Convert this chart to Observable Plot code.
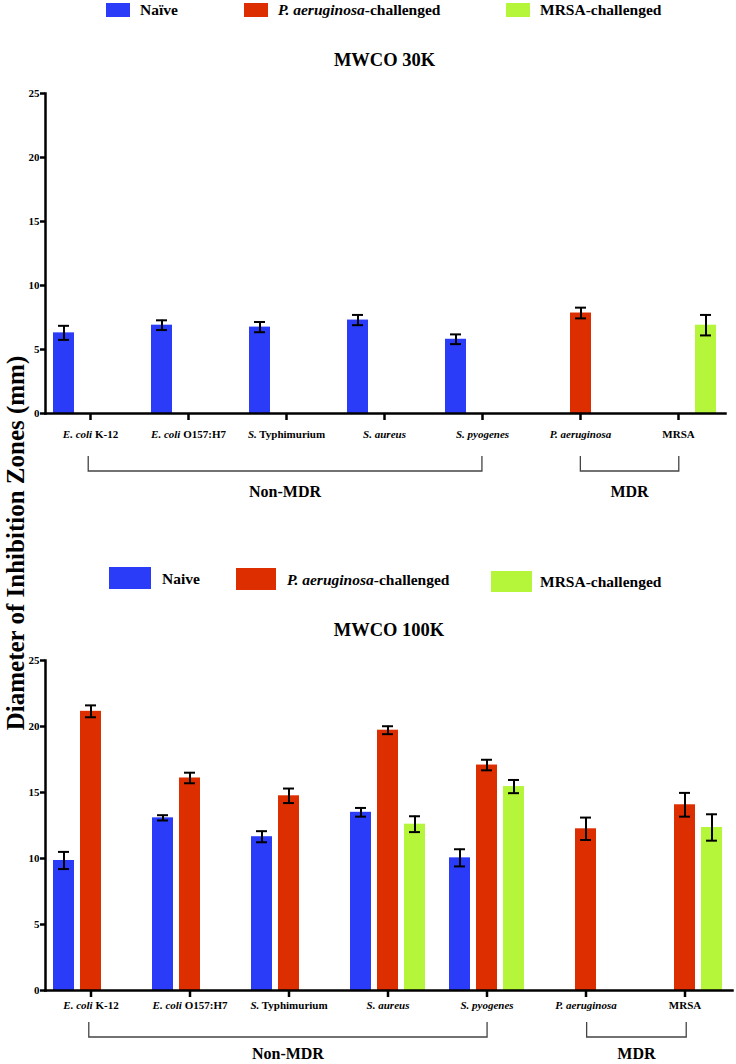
<!DOCTYPE html>
<html><head><meta charset="utf-8">
<script src="https://cdn.jsdelivr.net/npm/d3@7"></script>
<script src="https://cdn.jsdelivr.net/npm/@observablehq/plot@0.6"></script>
<style>
body{margin:0;background:#fff;}
#page{position:relative;width:736px;height:1064px;overflow:hidden;font-family:"Liberation Serif","Times New Roman",serif;font-weight:bold;color:#000;}
.sw{position:absolute;}
.lt{position:absolute;font-size:15.5px;white-space:nowrap;line-height:1;}
.title{position:absolute;font-size:18.5px;white-space:nowrap;line-height:1;transform:translateX(-50%);}
.chart{position:absolute;left:0;}
#ytitle{position:absolute;font-size:25px;white-space:nowrap;line-height:1;left:15px;top:543px;transform:translate(-50%,-50%) rotate(-90deg);}
</style></head>
<body><div id="page"></div>
<script>
// ---- data ----
const categories = ["E. coli K-12","E. coli O157:H7","S. Typhimurium","S. aureus","S. pyogenes","P. aeruginosa","MRSA"];
const categoryItalic = ["E. coli","E. coli","S.","S. aureus","S. pyogenes","P. aeruginosa",""];
const series = ["Naïve","P. aeruginosa-challenged","MRSA-challenged"];
const seriesColors = ["#2a3cf8","#dd2e00","#b5f53a"];
const legend30Labels = ["Naïve","P. aeruginosa-challenged","MRSA-challenged"];
const legend100Labels = ["Naive","P. aeruginosa-challenged","MRSA-challenged"];
const legendItalic = ["","P. aeruginosa",""];
const titles = ["MWCO 30K","MWCO 100K"];
const yTitle = "Diameter of Inhibition Zones (mm)";
const yTicks = [0,5,10,15,20,25];
const groupLabels = ["Non-MDR","MDR"];
const groupFrom = ["E. coli K-12","P. aeruginosa"];
const groupTo = ["S. pyogenes","MRSA"];

// MWCO 30K
const naive30    = [6.3, 6.9, 6.75, 7.3, 5.8, null, null];
const naive30Err = [0.55, 0.38, 0.4, 0.4, 0.38, null, null];
const pa30       = [null, null, null, null, null, 7.85, null];
const pa30Err    = [null, null, null, null, null, 0.42, null];
const mrsa30     = [null, null, null, null, null, null, 6.9];
const mrsa30Err  = [null, null, null, null, null, null, 0.8];

// MWCO 100K
const naive100    = [9.85, 13.08, 11.65, 13.5, 10.05, null, null];
const naive100Err = [0.65, 0.2, 0.42, 0.33, 0.65, null, null];
const pa100       = [21.15, 16.1, 14.75, 19.72, 17.08, 12.25, 14.07];
const pa100Err    = [0.45, 0.4, 0.55, 0.3, 0.4, 0.85, 0.9];
const mrsa100     = [null, null, null, 12.6, 15.45, null, 12.35];
const mrsa100Err  = [null, null, null, 0.6, 0.5, null, 1.0];

function rowsOf(list) {
  const rows = [];
  list.forEach(([vals, errs], s) => {
    vals.forEach((v, i) => {
      if (v != null) rows.push({category: categories[i], series: series[s], value: v, err: errs[i]});
    });
  });
  return rows;
}
const rows30 = rowsOf([[naive30, naive30Err], [pa30, pa30Err], [mrsa30, mrsa30Err]]);
const rows100 = rowsOf([[naive100, naive100Err], [pa100, pa100Err], [mrsa100, mrsa100Err]]);

const page = document.getElementById("page");

function addText(parent, cls, text, italicPart, style) {
  const el = document.createElement("div");
  el.className = cls;
  Object.assign(el.style, style);
  if (italicPart && text.startsWith(italicPart)) {
    const i = document.createElement("i"); i.textContent = italicPart; el.appendChild(i);
    el.appendChild(document.createTextNode(text.slice(italicPart.length)));
  } else el.textContent = text;
  parent.appendChild(el);
  return el;
}

function legend(labels, sw, tx) {
  labels.forEach((lab, i) => {
    const s = document.createElement("div");
    s.className = "sw";
    Object.assign(s.style, {left: sw[i][0] + "px", top: sw[i][1] + "px", width: sw[i][2] + "px", height: sw[i][3] + "px", background: seriesColors[i]});
    page.appendChild(s);
    addText(page, "lt", lab, legendItalic[i], {left: tx[i][0] + "px", top: tx[i][1] + "px"});
  });
}

function makeChart(rows, o) {
  const chart = Plot.plot({
    width: 736, height: o.height,
    marginTop: o.mt, marginBottom: o.mb, marginLeft: o.ml, marginRight: o.mr,
    style: {fontFamily: "'Liberation Serif', 'Times New Roman', serif", fontWeight: "bold", fontSize: "11px", color: "#000", background: "transparent"},
    fx: {domain: categories, padding: 0, label: null},
    x: {domain: series, paddingInner: 0.24, paddingOuter: 0.42, axis: null},
    y: {domain: [0, 25], label: null},
    color: {domain: series, range: seriesColors},
    marks: [
      Plot.barY(rows, {fx: "category", x: "series", y: "value", fill: "series"}),
      Plot.ruleX(rows, {fx: "category", x: "series", y1: d => d.value - d.err, y2: d => d.value + d.err, stroke: "#000", strokeWidth: 2}),
      Plot.tickY(rows, {fx: "category", x: "series", y: d => d.value + d.err, insetLeft: 5, insetRight: 5, stroke: "#000", strokeWidth: 2}),
      Plot.tickY(rows, {fx: "category", x: "series", y: d => d.value - d.err, insetLeft: 5, insetRight: 5, stroke: "#000", strokeWidth: 2}),
      Plot.frame({anchor: "left", facet: "super", dx: 4, stroke: "#000", strokeWidth: 2.5}),
      Plot.frame({anchor: "bottom", facet: "super", insetLeft: 4, insetRight: o.axisInsetRight, stroke: "#000", strokeWidth: 2.5}),
      Plot.axisY({ticks: yTicks, tickSize: 5, tickPadding: 1, strokeWidth: 2.5, dx: 4, label: null, fontSize: 11}),
      Plot.axisFx({anchor: "bottom", tickSize: 7, tickPadding: o.tp, strokeWidth: 2.5, label: null, fontSize: 11})
    ]
  });
  const svgNode = chart.tagName.toLowerCase() === "svg" ? chart : chart.querySelector("svg");
  const svg = d3.select(svgNode);

  // mixed italic tick labels
  svg.selectAll('g[aria-label="fx-axis tick label"] text').each(function() {
    const full = this.textContent;
    const idx = categories.indexOf(full);
    if (idx < 0) return;
    const it = categoryItalic[idx];
    const t = d3.select(this);
    t.text(null);
    if (it) t.append("tspan").attr("font-style", "italic").text(it);
    const rest = full.slice(it.length);
    if (rest) t.append("tspan").attr("font-style", "normal").text(rest);
  });

  // brackets for groups
  const fxs = chart.scale("fx");
  const pi = fxs.paddingInner ?? fxs.padding ?? 0;
  const po = fxs.paddingOuter ?? fxs.padding ?? 0;
  const band = d3.scaleBand().domain(fxs.domain).range(fxs.range).paddingInner(pi).paddingOuter(po).align(fxs.align ?? 0.5);
  const cx = c => band(c) + band.bandwidth() / 2;
  const ys = chart.scale("y");
  const y0 = d3.scaleLinear().domain(ys.domain).range(ys.range)(0);
  const g = svg.append("g").attr("aria-label", "groups");
  groupLabels.forEach((lab, i) => {
    const x1 = cx(groupFrom[i]), x2 = cx(groupTo[i]);
    g.append("path")
      .attr("d", `M${x1},${y0 + o.bTop}V${y0 + o.bBot}H${x2}V${y0 + o.bTop}`)
      .attr("fill", "none").attr("stroke", "#444").attr("stroke-width", 1.3);
    g.append("text")
      .attr("x", (x1 + x2) / 2).attr("y", y0 + o.lab[i])
      .attr("text-anchor", "middle").attr("dy", "0.35em")
      .attr("font-size", 16).attr("font-weight", "bold")
      .text(lab);
  });

  const wrap = document.createElement("div");
  wrap.className = "chart";
  wrap.style.top = o.top + "px";
  wrap.appendChild(chart);
  page.appendChild(wrap);
}

// top panel
legend(legend30Labels, [[106, 3, 24, 14], [244, 3, 24, 14], [506, 3, 24, 14]], [[140, 2], [278, 2], [540, 2]]);
addText(page, "title", titles[0], "", {left: "384.5px", top: "51px"});
makeChart(rows30, {top: 70, height: 450, mt: 23, mb: 107, ml: 39, mr: 8, axisInsetRight: 2, tp: 10, bTop: 43, bBot: 58, lab: [78, 78]});

// bottom panel
legend(legend100Labels, [[109, 567, 42, 22], [236, 568, 40, 22], [491, 571, 41, 21]], [[162, 571], [287, 572], [540, 574]]);
addText(page, "title", titles[1], "", {left: "389px", top: "621px"});
makeChart(rows100, {top: 645, height: 419, mt: 15, mb: 74, ml: 39, mr: 0, axisInsetRight: 2, tp: 4, bTop: 32, bBot: 47, lab: [63, 63]});

// shared y title
const yt = document.createElement("div");
yt.id = "ytitle";
yt.textContent = yTitle;
page.appendChild(yt);
</script>
</body></html>
